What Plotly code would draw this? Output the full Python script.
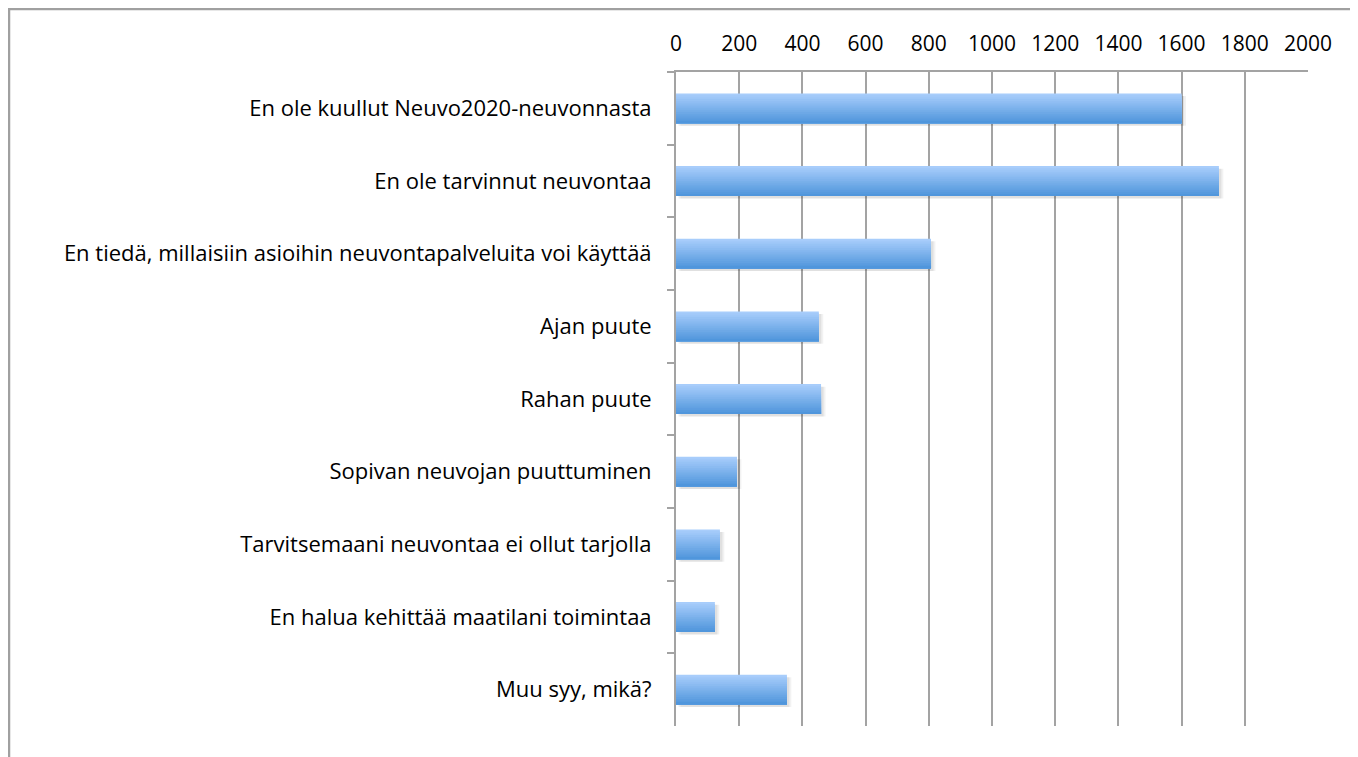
import plotly.graph_objects as go

# syyt (reasons) and answer counts
categories = [
    "En ole kuullut Neuvo2020-neuvonnasta",
    "En ole tarvinnut neuvontaa",
    "En tiedä, millaisiin asioihin neuvontapalveluita voi käyttää",
    "Ajan puute",
    "Rahan puute",
    "Sopivan neuvojan puuttuminen",
    "Tarvitsemaani neuvontaa ei ollut tarjolla",
    "En halua kehittää maatilani toimintaa",
    "Muu syy, mikä?",
]
counts = [1600, 1718, 807, 452, 459, 193, 139, 123, 351]
tick_vals = list(range(0, 2001, 200))

FONT = "Open Sans"
BAR_W = 0.41
N_STRIPS = 16
top_rgb = (168, 205, 251)
bot_rgb = (80, 150, 220)

fig = go.Figure()

# soft shadow under the bars
for off, alpha in [(14, 0.05), (8, 0.07)]:
    fig.add_trace(go.Bar(
        y=categories, x=counts, base=off, orientation="h",
        width=BAR_W, offset=-BAR_W / 2 + 0.035,
        marker=dict(color=f"rgba(0,0,0,{alpha})", line_width=0),
        hoverinfo="skip", showlegend=False,
    ))

# vertical gradient: each layer starts a bit lower and runs to the bar bottom
strip = BAR_W / N_STRIPS
for i in range(N_STRIPS):
    t = i / (N_STRIPS - 1)
    r, g, b = [round(a + (c - a) * t) for a, c in zip(top_rgb, bot_rgb)]
    fig.add_trace(go.Bar(
        y=categories, x=counts, orientation="h",
        width=BAR_W - i * strip, offset=-BAR_W / 2 + i * strip,
        marker=dict(color=f"rgb({r},{g},{b})", line_width=0),
        hoverinfo="skip", showlegend=False,
    ))

fig.update_layout(
    width=1350, height=749,
    barmode="overlay",
    plot_bgcolor="white", paper_bgcolor="white",
    margin=dict(l=668, r=50, t=64, b=31),
    font=dict(family=FONT, size=22, color="black"),
    showlegend=False,
)
fig.update_xaxes(
    side="top", range=[0, 2000], tickvals=tick_vals,
    showgrid=True, gridcolor="#a3a3a3", gridwidth=1.5,
    showline=True, linecolor="#a3a3a3", linewidth=1.5,
    ticks="", ticklabelstandoff=11, zeroline=False,
    tickfont=dict(size=21),
)
fig.update_yaxes(
    autorange="reversed", tickson="boundaries",
    ticks="outside", ticklen=7, tickcolor="#a3a3a3", tickwidth=2,
    showline=True, linecolor="#a3a3a3", linewidth=2,
    ticklabelstandoff=18, showgrid=False,
)

# outer frame of the chart area
fig.add_shape(
    type="rect", xref="paper", yref="paper",
    x0=-667 / 632, x1=1.2, y0=-0.2, y1=717 / 654,
    line=dict(color="#a0a0a0", width=2.5), layer="below",
)

fig.write_html("out.html")
